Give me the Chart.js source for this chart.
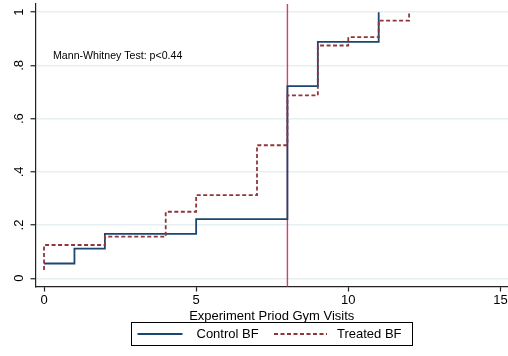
<!DOCTYPE html>
<html>
<head>
<meta charset="utf-8">
<script src="https://cdn.jsdelivr.net/npm/chart.js@4.4.1/dist/chart.umd.min.js"></script>
<style>
html, body { margin: 0; padding: 0; background: #fff; }
#wrap { width: 508px; height: 356px; position: relative; }
canvas { display: block; }
</style>
</head>
<body>
<div id="wrap"><canvas id="cdf" width="508" height="356"></canvas></div>
<script>
// Empirical CDFs of gym visits in the experiment period, by group
const controlVisits = [0, 1, 2, 5, 8, 9, 11];
const controlCdf = [1/18, 2/18, 3/18, 4/18, 13/18, 16/18, 18/18];
const treatedVisits = [0, 0, 2, 4, 5, 7, 8, 9, 10, 11, 12];
const treatedCdf = [1/32, 4/32, 5/32, 8/32, 10/32, 16/32, 22/32, 28/32, 29/32, 31/32, 32/32];
const seriesLabels = ['Control BF', 'Treated BF'];
const xTickValues = [0, 5, 10, 15];
const xTickLabels = ['0', '5', '10', '15'];
const yTickValues = [0, 0.2, 0.4, 0.6, 0.8, 1];
const yTickLabels = ['0', '.2', '.4', '.6', '.8', '1'];
const cutoffVisit = 8;
const testNote = 'Mann-Whitney Test: p<0.44';

// axis extents and note anchor, in data units
const X_RANGE = [-0.28, 15.25];
const Y_RANGE = [-0.031, 1.031];
const NOTE_AT = { x: 0.296, y: 0.836 };

const FONT = '"Liberation Sans", Arial, Helvetica, sans-serif';
const NAVY = '#1a476f';
const MAROON = '#90353b';
const CRANBERRY = '#d4406c';
const AXIS = '#222';

Chart.defaults.font.family = FONT;
Chart.defaults.color = '#000';

const toPoints = (xs, ys) => xs.map((x, i) => ({ x: x, y: ys[i] }));

// keep the plot region fixed: no extra room for overhanging tick labels
const noLabelPadding = s => {
  s.paddingTop = 0; s.paddingBottom = 0; s.paddingLeft = 0; s.paddingRight = 0;
};

// vertical reference line at the cutoff, beneath the curves
const cutoffLine = {
  id: 'cutoffLine',
  beforeDatasetsDraw(chart) {
    const { ctx, chartArea, scales } = chart;
    const px = scales.x.getPixelForValue(cutoffVisit);
    ctx.save();
    ctx.strokeStyle = CRANBERRY;
    ctx.lineWidth = 1.4;
    ctx.beginPath();
    ctx.moveTo(px, chartArea.top);
    ctx.lineTo(px, chartArea.bottom);
    ctx.stroke();
    ctx.restore();
  }
};

// test note inside the plot, and a boxed legend under the axis title
const noteAndLegend = {
  id: 'noteAndLegend',
  afterDraw(chart) {
    const { ctx, scales } = chart;
    ctx.save();
    ctx.fillStyle = '#000';
    ctx.font = '10.6px ' + FONT;
    ctx.textBaseline = 'middle';
    ctx.textAlign = 'left';
    ctx.fillText(testNote, scales.x.getPixelForValue(NOTE_AT.x), scales.y.getPixelForValue(NOTE_AT.y));

    const box = { left: 131.5, top: 322.5, right: 412.5, bottom: 345.5 };
    ctx.strokeStyle = '#000';
    ctx.lineWidth = 1;
    ctx.strokeRect(box.left, box.top, box.right - box.left, box.bottom - box.top);

    const cy = (box.top + box.bottom) / 2;
    const items = [
      { x0: 137.5, x1: 182.5, tx: 196.5 },
      { x0: 274, x1: 327, tx: 337 }
    ];
    ctx.font = '13px ' + FONT;
    items.forEach((it, i) => {
      const ds = chart.data.datasets[i];
      ctx.strokeStyle = ds.borderColor;
      ctx.lineWidth = ds.borderWidth;
      ctx.setLineDash(ds.borderDash || []);
      ctx.beginPath();
      ctx.moveTo(it.x0, cy);
      ctx.lineTo(it.x1, cy);
      ctx.stroke();
      ctx.setLineDash([]);
      ctx.fillStyle = '#000';
      ctx.fillText(ds.label, it.tx, cy + 0.5);
    });
    ctx.restore();
  }
};

new Chart(document.getElementById('cdf'), {
  type: 'line',
  data: {
    datasets: [
      {
        label: seriesLabels[0],
        data: toPoints(controlVisits, controlCdf),
        borderColor: NAVY,
        borderWidth: 1.8,
        stepped: true,
        pointRadius: 0,
        fill: false,
        order: 1
      },
      {
        label: seriesLabels[1],
        data: toPoints(treatedVisits, treatedCdf),
        borderColor: MAROON,
        borderWidth: 1.8,
        borderDash: [4, 2.5],
        stepped: true,
        pointRadius: 0,
        fill: false,
        order: 0
      }
    ]
  },
  options: {
    responsive: false,
    animation: false,
    devicePixelRatio: 1,
    layout: { padding: { top: 4, right: 0, bottom: 30.7, left: 0 } },
    plugins: { legend: { display: false }, tooltip: { enabled: false } },
    scales: {
      x: {
        type: 'linear',
        min: X_RANGE[0],
        max: X_RANGE[1],
        afterBuildTicks: s => { s.ticks = xTickValues.map(v => ({ value: v })); },
        afterFit: s => { s.height = 38.8; noLabelPadding(s); },
        grid: { drawOnChartArea: false, drawTicks: true, tickLength: 5, tickColor: AXIS, tickWidth: 1.2 },
        border: { display: true, color: AXIS, width: 1.2 },
        ticks: {
          padding: 1,
          color: '#000',
          font: { size: 13 },
          minRotation: 0,
          maxRotation: 0,
          callback: (v, i) => xTickLabels[i]
        },
        title: {
          display: true,
          text: 'Experiment Priod Gym Visits',
          color: '#000',
          font: { size: 13 },
          padding: { top: 0, bottom: 0.8 }
        }
      },
      y: {
        type: 'linear',
        min: Y_RANGE[0],
        max: Y_RANGE[1],
        afterBuildTicks: s => { s.ticks = yTickValues.map(v => ({ value: v })); },
        afterFit: s => { s.width = 35.5; noLabelPadding(s); },
        grid: { color: '#e6eff1', lineWidth: 1.5, drawTicks: true, tickLength: 5, tickColor: AXIS, tickWidth: 1.2 },
        border: { display: true, color: AXIS, width: 1.2 },
        ticks: {
          padding: 5.6,
          color: '#000',
          font: { size: 13 },
          minRotation: 90,
          maxRotation: 90,
          crossAlign: 'center',
          callback: (v, i) => yTickLabels[i]
        }
      }
    }
  },
  plugins: [cutoffLine, noteAndLegend]
});
</script>
</body>
</html>
